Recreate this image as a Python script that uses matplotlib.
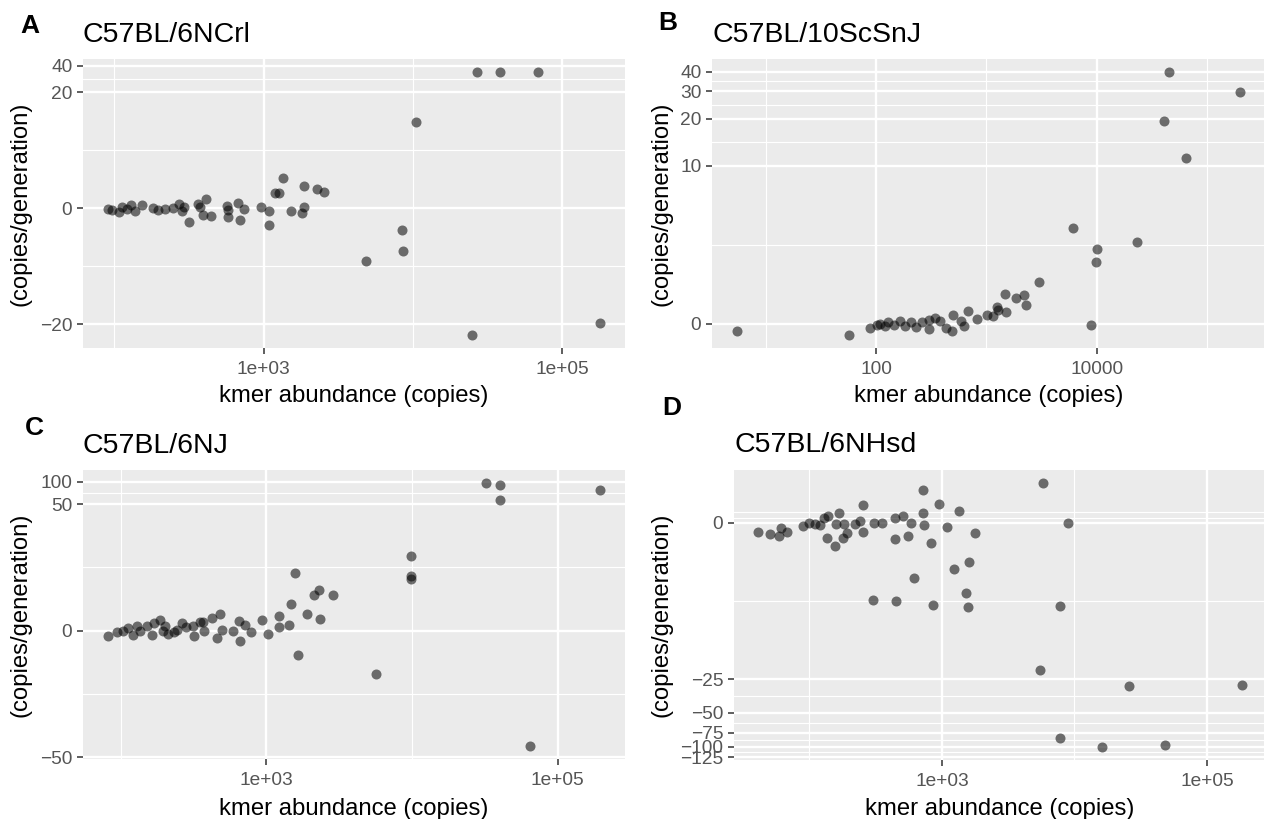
import numpy as np
import matplotlib
matplotlib.use('Agg')
import matplotlib.pyplot as plt
from matplotlib.ticker import NullFormatter

plt.rcParams['font.family'] = ['Liberation Sans', 'DejaVu Sans']

W, H = 1264, 819
MINUS = '\u2212'

# ---- data: kmer abundance (copies) vs rate (copies/generation) ----
a_x = [90, 97, 108, 113, 122, 130, 138, 154, 182, 197, 219, 248, 272, 285, 294, 318,
       360, 377, 394, 413, 440, 571, 580, 580, 676, 698, 743, 966, 1092, 1092, 1197,
       1273, 1355, 1534, 1817, 1875, 1875, 2291, 2553, 4808, 8380, 8510, 10550,
       25000, 27000, 38000, 69300, 180000]
a_y = [-0.04, -0.09, -0.19, 0.07, -0.04, 0.17, -0.14, 0.17, 0.02, -0.09, -0.04, 0.02,
       0.22, -0.14, 0.07, -0.71, 0.22, 0.07, -0.35, 0.48, -0.40, 0.12, -0.09, -0.45,
       0.27, -0.61, -0.04, 0.07, -0.14, -0.92, 0.80, 0.80, 1.7, -0.14, -0.24, 0.07,
       1.2, 1.03, 0.87, -3.7, -1.17, -2.67, 9.2, -26.4, 33.8, 33.8, 33.8, -19.3]

b_x = [5.46, 57, 87, 101, 109, 121, 129, 144, 163, 183, 206, 231, 260, 298, 304, 343,
       380, 431, 486, 496, 586, 628, 687, 819, 1009, 1157, 1242, 1284, 1510, 1487,
       1858, 2197, 2291, 2987, 6150, 10000, 9820, 8850, 23100, 45600, 40600, 64300,
       199500]
b_y = [-0.22, -0.32, -0.13, -0.03, 0.0, -0.06, 0.07, -0.03, 0.1, -0.06, 0.07, -0.08,
       0.07, 0.12, -0.15, 0.17, 0.1, -0.13, -0.22, 0.26, 0.1, -0.06, 0.39, 0.14, 0.26,
       0.23, 0.49, 0.41, 0.36, 0.9, 0.77, 0.86, 0.56, 1.31, 3.84, 2.66, 2.08, -0.03,
       3.03, 39.7, 19.5, 11.2, 29.6]

c_x = [81.5, 95.2, 104, 113, 122, 130, 136, 152, 165, 170, 185, 195, 203, 213, 231,
       244, 264, 282, 314, 317, 352, 368, 372, 424, 459, 478, 496, 591, 645, 656, 718,
       789, 934, 1027, 1215, 1215, 1422, 1479, 1582, 1651, 1903, 2113, 2287, 2349,
       2871, 5690, 9890, 9890, 9890, 32400, 39900, 39900, 64100, 196000]
c_y = [-0.31, -0.10, -0.04, 0.17, -0.25, 0.27, -0.04, 0.31, -0.25, 0.48, 0.69, 0.01,
       0.31, -0.18, -0.10, 0.06, 0.48, 0.23, 0.27, -0.35, 0.56, 0.56, -0.04, 0.80,
       -0.45, 1.07, 0.06, -0.04, 0.58, -0.62, 0.37, -0.10, 0.69, -0.18, 0.91, 0.23,
       0.37, 1.83, 5.72, -1.67, 1.09, 2.70, 3.19, 0.74, 2.70, -3.5, 9.97, 5.2, 4.7,
       95.8, 91.2, 57.5, -35.1, 78.2]

d_x = [41.1, 50.9, 59.2, 60.6, 67.3, 88.9, 99.6, 110, 120, 129, 139, 137, 156, 158,
       166, 178, 182, 191, 220, 240, 252, 255, 307, 303, 356, 441, 444, 449, 505, 551,
       580, 615, 723, 715, 735, 826, 860, 955, 1097, 1232, 1352, 1518, 1579, 1607,
       1783, 5820, 5500, 7780, 8970, 7780, 16100, 25900, 48400, 183000]
d_y = [-0.39, -0.44, -0.53, -0.21, -0.39, -0.11, 0.0, -0.03, -0.07, 0.21, 0.27, -0.63,
       -1.0, -0.03, 0.41, -0.63, -0.03, -0.41, -0.03, 0.07, -0.39, 0.74, 0.01, -4.7,
       0.01, 0.21, -0.67, -4.8, 0.30, -0.53, 0.01, -2.79, 1.48, 0.41, -0.07, -0.85,
       -5.2, 0.82, -0.18, -2.19, 0.52, -3.98, -5.45, -1.81, -0.41, 1.83, -20.4, -5.4,
       0.01, -84.5, -100.4, -28.4, -95.8, -28.0]

titles = ['C57BL/6NCrl', 'C57BL/10ScSnJ', 'C57BL/6NJ', 'C57BL/6NHsd']
tags = ['A', 'B', 'C', 'D']

x_breaks_sci = [1e3, 1e5]
x_labels_sci = ['1e+03', '1e+05']
x_breaks_b = [100, 10000]
x_labels_b = ['100', '10000']

y_breaks = {
    'A': [-20, 0, 20, 40],
    'B': [0, 10, 20, 30, 40],
    'C': [-50, 0, 50, 100],
    'D': [-125, -100, -75, -50, -25, 0],
}


def fwd(y):
    return np.arcsinh(np.asarray(y, dtype=float) / 2)


def inv(t):
    return 2 * np.sinh(np.asarray(t, dtype=float))


def minor_breaks(b, lo, hi, n=2):
    # same rule ggplot uses: midpoints between majors, extended toward limits
    b = list(b)
    bd = b[1] - b[0]
    if lo < b[0]:
        b = [b[0] - bd] + b
    if hi > b[-1]:
        b = b + [b[-1] + bd]
    out = []
    for p, q in zip(b[:-1], b[1:]):
        out += list(np.linspace(p, q, n + 1)[:-1])
    out.append(b[-1])
    return np.array(out)


def fmt(v):
    s = str(int(v))
    return s.replace('-', MINUS)


fig = plt.figure(figsize=(W / 100, H / 100), dpi=100)


def panel(rect, xs, ys, xb, xl, yb, title, tag, tag_xy, title_xy, ylab_x, xlab_y):
    l, t, r, b = rect
    ax = fig.add_axes([l / W, 1 - b / H, (r - l) / W, (b - t) / H])
    ax.set_facecolor('#EBEBEB')
    for s in ax.spines.values():
        s.set_visible(False)
    ax.set_xscale('log')
    ax.set_yscale('function', functions=(fwd, inv))

    lx = np.log10(xs)
    ty = fwd(ys)
    ex = 0.05 * (lx.max() - lx.min())
    ey = 0.05 * (ty.max() - ty.min())
    xlo, xhi = lx.min() - ex, lx.max() + ex
    ylo, yhi = ty.min() - ey, ty.max() + ey

    ax.scatter(xs, ys, s=52, c='black', alpha=0.55, linewidths=0, zorder=3)

    ax.set_xticks(xb)
    ax.set_xticklabels(xl)
    ax.set_xticks(10 ** minor_breaks(np.log10(xb), xlo, xhi), minor=True)
    ax.set_yticks(yb)
    ax.set_yticklabels([fmt(v) for v in yb])
    ax.set_yticks(inv(minor_breaks(fwd(yb), ylo, yhi)), minor=True)
    ax.set_xlim(10 ** xlo, 10 ** xhi)
    ax.set_ylim(inv(ylo), inv(yhi))
    ax.xaxis.set_minor_formatter(NullFormatter())
    ax.yaxis.set_minor_formatter(NullFormatter())

    ax.grid(which='major', color='white', linewidth=1.7)
    ax.grid(which='minor', color='white', linewidth=0.85)
    ax.set_axisbelow(True)
    ax.tick_params(which='minor', length=0)
    ax.tick_params(which='major', length=4.2, width=1.1, color='#333333',
                   labelcolor='#555555', labelsize=13.8)
    ax.tick_params(axis='x', pad=5)
    ax.tick_params(axis='y', pad=3.5)

    fig.text(title_xy[0] / W, 1 - title_xy[1] / H, title, fontsize=20.5,
             va='baseline', ha='left')
    fig.text(tag_xy[0] / W, 1 - tag_xy[1] / H, tag, fontsize=19,
             fontweight='bold', va='baseline', ha='left')
    fig.text(ylab_x / W, 1 - (t + b) / 2 / H, '(copies/generation)', fontsize=17.2,
             rotation=90, va='center', ha='center')
    fig.text((l + r) / 2 / W, 1 - xlab_y / H, 'kmer abundance (copies)',
             fontsize=17.2, va='baseline', ha='center')
    return ax


panel((83, 59, 625, 348), a_x, a_y, x_breaks_sci, x_labels_sci, y_breaks['A'],
      titles[0], tags[0], (20, 33), (83, 42), 21, 402)
panel((712, 59, 1265, 348), b_x, b_y, x_breaks_b, x_labels_b, y_breaks['B'],
      titles[1], tags[1], (658, 30), (712, 42), 661, 402)
panel((83, 470, 625, 759), c_x, c_y, x_breaks_sci, x_labels_sci, y_breaks['C'],
      titles[2], tags[2], (25, 435), (83, 453), 21, 815)
panel((734, 470, 1266, 760), d_x, d_y, x_breaks_sci, x_labels_sci, y_breaks['D'],
      titles[3], tags[3], (662, 415), (735, 452), 661, 815)

fig.savefig('out.png', dpi=100)
